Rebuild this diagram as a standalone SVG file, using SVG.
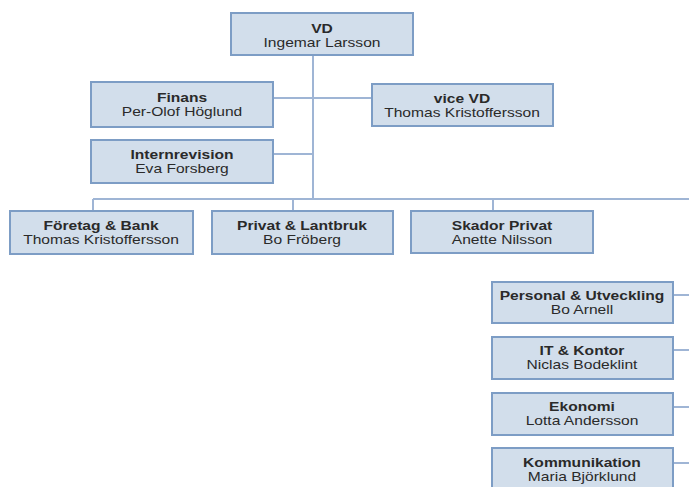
<svg xmlns="http://www.w3.org/2000/svg" width="689" height="487" viewBox="0 0 689 487">
<style>
.box{fill:#d2deeb;stroke:#7d9dc5;stroke-width:2}
.ln{fill:none;stroke:#9fb5d5;stroke-width:2}
.t{font-family:"Liberation Sans",Arial,sans-serif;font-size:12px;fill:#2a2a2a;text-anchor:middle}
.b{font-weight:bold}
</style>
<rect width="689" height="487" fill="#ffffff"/>
<g id="connectors">
<path class="ln" d="M313,55 V199 M93,199 H689 M93,199 V211 M293,199 V211 M493,199 V211"/>
<path class="ln" d="M273,98 H372 M273,154 H313"/>
<path class="ln" d="M673,295 H689 M673,350 H689 M673,407 H689 M673,463 H689"/>
</g>
<g id="vd"><rect class="box" x="231" y="13" width="182" height="42"/>
<text class="t b" transform="translate(322,33) scale(1.3,1)">VD</text>
<text class="t" transform="translate(322,47) scale(1.3,1)">Ingemar Larsson</text></g>
<g id="finans"><rect class="box" x="91" y="82" width="182" height="45"/>
<text class="t b" transform="translate(182,102) scale(1.3,1)">Finans</text>
<text class="t" transform="translate(182,116) scale(1.3,1)">Per-Olof Höglund</text></g>
<g id="vicevd"><rect class="box" x="372" y="84" width="181" height="42"/>
<text class="t b" transform="translate(462,103) scale(1.3,1)">vice VD</text>
<text class="t" transform="translate(462,117) scale(1.3,1)">Thomas Kristoffersson</text></g>
<g id="internrevision"><rect class="box" x="91" y="140" width="182" height="43"/>
<text class="t b" transform="translate(182,159) scale(1.3,1)">Internrevision</text>
<text class="t" transform="translate(182,173) scale(1.3,1)">Eva Forsberg</text></g>
<g id="foretag"><rect class="box" x="10" y="211" width="183" height="43"/>
<text class="t b" transform="translate(101,230) scale(1.3,1)">Företag &amp; Bank</text>
<text class="t" transform="translate(101,244) scale(1.3,1)">Thomas Kristoffersson</text></g>
<g id="privat"><rect class="box" x="212" y="211" width="181" height="43"/>
<text class="t b" transform="translate(302,230) scale(1.3,1)">Privat &amp; Lantbruk</text>
<text class="t" transform="translate(302,244) scale(1.3,1)">Bo Fröberg</text></g>
<g id="skador"><rect class="box" x="411" y="211" width="182" height="42"/>
<text class="t b" transform="translate(502,230) scale(1.3,1)">Skador Privat</text>
<text class="t" transform="translate(502,244) scale(1.3,1)">Anette Nilsson</text></g>
<g id="personal"><rect class="box" x="492" y="282" width="181" height="41"/>
<text class="t b" transform="translate(582,300) scale(1.3,1)">Personal &amp; Utveckling</text>
<text class="t" transform="translate(582,314) scale(1.3,1)">Bo Arnell</text></g>
<g id="it"><rect class="box" x="492" y="337" width="181" height="42"/>
<text class="t b" transform="translate(582,355) scale(1.3,1)">IT &amp; Kontor</text>
<text class="t" transform="translate(582,369) scale(1.3,1)">Niclas Bodeklint</text></g>
<g id="ekonomi"><rect class="box" x="492" y="393" width="181" height="42"/>
<text class="t b" transform="translate(582,411) scale(1.3,1)">Ekonomi</text>
<text class="t" transform="translate(582,425) scale(1.3,1)">Lotta Andersson</text></g>
<g id="kommunikation"><rect class="box" x="492" y="448" width="181" height="42"/>
<text class="t b" transform="translate(582,467) scale(1.3,1)">Kommunikation</text>
<text class="t" transform="translate(582,481) scale(1.3,1)">Maria Björklund</text></g>
</svg>
